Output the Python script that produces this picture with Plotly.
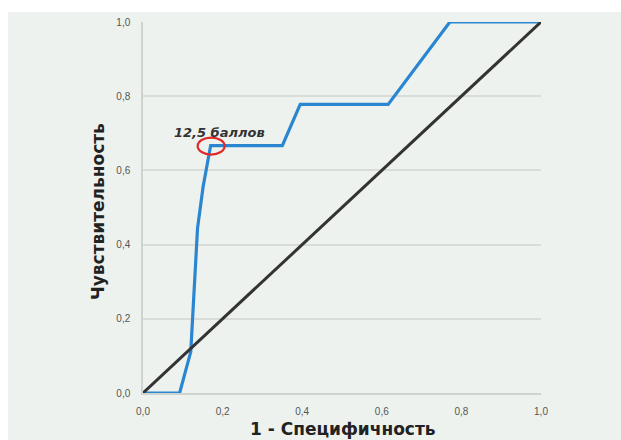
import plotly.graph_objects as go

# ROC curve (1 - specificity vs sensitivity)
fpr = [0.0, 0.092, 0.12, 0.137, 0.151, 0.17, 0.35, 0.395, 0.616, 0.771, 1.0]
tpr = [0.0, 0.0, 0.111, 0.444, 0.556, 0.667, 0.667, 0.778, 0.778, 1.0, 1.0]

# Reference (chance) line
ref_x = [0.0, 1.0]
ref_y = [0.0, 1.0]

# Highlighted cut-off point
cut_x = 0.17
cut_y = 0.667
cut_label = "12,5 баллов"

tick_vals = [0.0, 0.2, 0.4, 0.6, 0.8, 1.0]
tick_text = ["0,0", "0,2", "0,4", "0,6", "0,8", "1,0"]

x_title = "1 - Специфичность"
y_title = "Чувствительность"

BG = "#eef2ee"
W, H = 621, 440
ML, MR, MT, MB = 143, 80, 22, 47
PW, PH = W - ML - MR, H - MT - MB

fig = go.Figure()
fig.add_trace(go.Scatter(x=fpr, y=tpr, mode="lines",
                         line=dict(color="#2a86d0", width=3.2),
                         hoverinfo="skip", showlegend=False))
fig.add_trace(go.Scatter(x=ref_x, y=ref_y, mode="lines",
                         line=dict(color="#333333", width=3),
                         hoverinfo="skip", showlegend=False))

# white frame strips along the top and left edges
fig.add_shape(type="rect", xref="paper", yref="paper", layer="below",
              x0=-ML / PW, x1=(W - ML) / PW,
              y0=(PH + MT - 12) / PH, y1=(PH + MT) / PH,
              fillcolor="white", line_width=0)
fig.add_shape(type="rect", xref="paper", yref="paper", layer="below",
              x0=-ML / PW, x1=(8 - ML) / PW,
              y0=-MB / PH, y1=(PH + MT) / PH,
              fillcolor="white", line_width=0)

# red ring around the cut-off point
fig.add_shape(type="circle", xref="x", yref="y",
              xsizemode="pixel", ysizemode="pixel",
              xanchor=cut_x, yanchor=cut_y,
              x0=-13, x1=14, y0=-9, y1=8,
              line=dict(color="#e02a2a", width=2.2))

fig.add_annotation(x=cut_x, y=cut_y, xref="x", yref="y",
                   text="<b><i>" + cut_label + "</i></b>",
                   showarrow=False, xshift=9, yshift=13,
                   font=dict(family="DejaVu Sans", size=13, color="#333333"))

title_font = dict(family="DejaVu Sans", size=17, color="#222222")

# axis titles placed as annotations so the plot area stays fixed
fig.add_annotation(xref="paper", yref="paper", x=(343 - ML) / PW, y=(MT + PH - 429) / PH,
                   text="<b>" + x_title + "</b>", showarrow=False,
                   xanchor="center", yanchor="middle", font=title_font)
fig.add_annotation(xref="paper", yref="paper", x=(98 - ML) / PW, y=(MT + PH - 212) / PH,
                   text="<b>" + y_title + "</b>", showarrow=False, textangle=-90,
                   xanchor="center", yanchor="middle", font=title_font)

axis_font = dict(family="Liberation Sans", size=10, color="#555555")

fig.update_xaxes(range=[0, 1], tickvals=tick_vals, ticktext=tick_text,
                 showgrid=False, zeroline=False, automargin=False,
                 showline=True, linecolor="#cfd3cf", linewidth=1.5,
                 ticks="outside", ticklen=8, tickcolor="rgba(0,0,0,0)",
                 tickfont=axis_font)
fig.update_yaxes(range=[0, 1], tickvals=tick_vals, ticktext=tick_text,
                 showgrid=True, gridcolor="#d9ddd9", gridwidth=1.5,
                 zeroline=False, automargin=False,
                 showline=True, linecolor="#cfd3cf", linewidth=1.5,
                 ticks="outside", ticklen=9, tickcolor="rgba(0,0,0,0)",
                 tickfont=axis_font)

fig.update_layout(width=W, height=H,
                  margin=dict(l=ML, r=MR, t=MT, b=MB, pad=0, autoexpand=False),
                  paper_bgcolor=BG, plot_bgcolor=BG,
                  showlegend=False)

fig.write_html("out.html", config={"displayModeBar": False})
